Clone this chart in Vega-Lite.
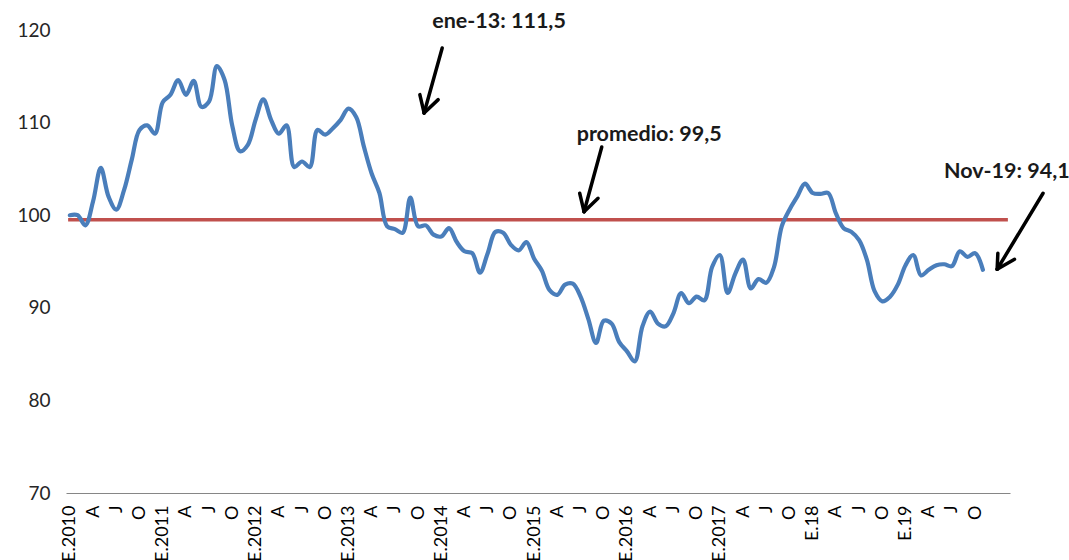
{
  "$schema": "https://vega.github.io/schema/vega-lite/v6.json",
  "width": 944,
  "height": 463,
  "autosize": {"type": "none"},
  "padding": {"left": 66, "top": 30, "right": 59, "bottom": 67},
  "background": "white",
  "config": {"view": {"stroke": null}},
  "datasets": {
    "serie": [
      {"mes":0,"valor":100.0},{"mes":1,"valor":100.0},{"mes":2,"valor":98.9},{"mes":3,"valor":101.5},{"mes":4,"valor":105.1},{"mes":5,"valor":102.0},{"mes":6,"valor":100.6},{"mes":7,"valor":102.7},{"mes":8,"valor":106.0},{"mes":9,"valor":109.2},{"mes":10,"valor":109.7},{"mes":11,"valor":108.8},
      {"mes":12,"valor":112.2},{"mes":13,"valor":113.0},{"mes":14,"valor":114.6},{"mes":15,"valor":113.0},{"mes":16,"valor":114.5},{"mes":17,"valor":111.7},{"mes":18,"valor":112.3},{"mes":19,"valor":116.1},{"mes":20,"valor":114.6},{"mes":21,"valor":109.6},{"mes":22,"valor":106.9},{"mes":23,"valor":107.6},
      {"mes":24,"valor":110.3},{"mes":25,"valor":112.5},{"mes":26,"valor":110.3},{"mes":27,"valor":108.8},{"mes":28,"valor":109.7},{"mes":29,"valor":105.2},{"mes":30,"valor":105.8},{"mes":31,"valor":105.2},{"mes":32,"valor":109.2},{"mes":33,"valor":108.7},{"mes":34,"valor":109.4},{"mes":35,"valor":110.3},
      {"mes":36,"valor":111.5},{"mes":37,"valor":110.6},{"mes":38,"valor":107.4},{"mes":39,"valor":104.5},{"mes":40,"valor":102.4},{"mes":41,"valor":98.8},{"mes":42,"valor":98.5},{"mes":43,"valor":98.1},{"mes":44,"valor":101.9},{"mes":45,"valor":98.8},{"mes":46,"valor":98.9},{"mes":47,"valor":97.9},
      {"mes":48,"valor":97.7},{"mes":49,"valor":98.6},{"mes":50,"valor":97.1},{"mes":51,"valor":96.1},{"mes":52,"valor":95.9},{"mes":53,"valor":93.8},{"mes":54,"valor":95.9},{"mes":55,"valor":98.2},{"mes":56,"valor":98.1},{"mes":57,"valor":96.8},{"mes":58,"valor":96.2},{"mes":59,"valor":97.1},
      {"mes":60,"valor":95.3},{"mes":61,"valor":94.0},{"mes":62,"valor":91.9},{"mes":63,"valor":91.4},{"mes":64,"valor":92.5},{"mes":65,"valor":92.6},{"mes":66,"valor":91.2},{"mes":67,"valor":88.8},{"mes":68,"valor":86.2},{"mes":69,"valor":88.6},{"mes":70,"valor":88.3},{"mes":71,"valor":86.3},
      {"mes":72,"valor":85.3},{"mes":73,"valor":84.2},{"mes":74,"valor":88.0},{"mes":75,"valor":89.6},{"mes":76,"valor":88.3},{"mes":77,"valor":88.0},{"mes":78,"valor":89.4},{"mes":79,"valor":91.6},{"mes":80,"valor":90.5},{"mes":81,"valor":91.2},{"mes":82,"valor":90.8},{"mes":83,"valor":94.4},
      {"mes":84,"valor":95.7},{"mes":85,"valor":91.6},{"mes":86,"valor":93.7},{"mes":87,"valor":95.2},{"mes":88,"valor":92.1},{"mes":89,"valor":93.1},{"mes":90,"valor":92.7},{"mes":91,"valor":94.4},{"mes":92,"valor":98.8},{"mes":93,"valor":100.6},{"mes":94,"valor":102.0},{"mes":95,"valor":103.4},
      {"mes":96,"valor":102.4},{"mes":97,"valor":102.3},{"mes":98,"valor":102.4},{"mes":99,"valor":100.2},{"mes":100,"valor":98.6},{"mes":101,"valor":98.2},{"mes":102,"valor":97.3},{"mes":103,"valor":95.2},{"mes":104,"valor":91.8},{"mes":105,"valor":90.7},{"mes":106,"valor":91.2},{"mes":107,"valor":92.5},
      {"mes":108,"valor":94.6},{"mes":109,"valor":95.7},{"mes":110,"valor":93.5},{"mes":111,"valor":94.1},{"mes":112,"valor":94.6},{"mes":113,"valor":94.7},{"mes":114,"valor":94.5},{"mes":115,"valor":96.1},{"mes":116,"valor":95.5},{"mes":117,"valor":95.9},{"mes":118,"valor":94.1}
    ],
    "promedio": [
      {"mes": 0, "mes2": 121, "valor": 99.5}
    ],
    "flechas": [
      {"mes": 48.12, "valor": 118.06, "mes2": 45.78, "valor2": 111.04},
      {"mes": 45.23, "valor": 113.02, "mes2": 45.78, "valor2": 111.04},
      {"mes": 47.60, "valor": 112.48, "mes2": 45.78, "valor2": 111.04},
      {"mes": 68.74, "valor": 107.37, "mes2": 66.45, "valor2": 100.38},
      {"mes": 65.89, "valor": 102.37, "mes2": 66.45, "valor2": 100.38},
      {"mes": 68.26, "valor": 101.83, "mes2": 66.45, "valor2": 100.38},
      {"mes": 125.77, "valor": 102.37, "mes2": 119.84, "valor2": 94.16},
      {"mes": 119.93, "valor": 95.89, "mes2": 119.84, "valor2": 94.16},
      {"mes": 122.09, "valor": 95.24, "mes2": 119.84, "valor2": 94.16}
    ],
    "notas": [
      {"mes": 46.82, "valor": 120.86, "texto": "ene-13: 111,5"},
      {"mes": 65.5, "valor": 108.66, "texto": "promedio: 99,5"},
      {"mes": 112.97, "valor": 104.67, "texto": "Nov-19: 94,1"}
    ]
  },
  "encoding": {
    "x": {
      "field": "mes", "type": "quantitative",
      "scale": {"domain": [-0.5, 121.5], "nice": false, "zero": false},
      "axis": {
        "title": null,
        "values": [0,3,6,9,12,15,18,21,24,27,30,33,36,39,42,45,48,51,54,57,60,63,66,69,72,75,78,81,84,87,90,93,96,99,102,105,108,111,114,117],
        "labelExpr": "datum.value % 12 == 0 ? (datum.value >= 96 ? 'E.' + (18 + (datum.value - 96) / 12) : 'E.' + (2010 + datum.value / 12)) : (datum.value % 12 == 3 ? 'A' : (datum.value % 12 == 6 ? 'J' : 'O'))",
        "labelAngle": -90,
        "labelAlign": "right",
        "labelBaseline": "middle",
        "labelPadding": 12,
        "labelFontSize": 18,
        "labelFont": "Lato",
        "labelColor": "#000000",
        "labelOverlap": false,
        "labelBound": false,
        "labelFlush": false,
        "ticks": false,
        "grid": false,
        "domain": true,
        "domainColor": "#868686",
        "domainWidth": 1
      }
    },
    "y": {
      "field": "valor", "type": "quantitative",
      "scale": {"domain": [70, 120], "nice": false, "zero": false},
      "axis": {
        "title": null,
        "values": [70, 80, 90, 100, 110, 120],
        "labelFontSize": 19,
        "labelFont": "Lato",
        "labelColor": "#262626",
        "labelPadding": 16,
        "ticks": false,
        "grid": false,
        "domain": false
      }
    }
  },
  "layer": [
    {
      "data": {"name": "promedio"},
      "mark": {"type": "rule", "color": "#C0504D", "strokeWidth": 3.5, "strokeCap": "square"},
      "encoding": {"x2": {"field": "mes2"}}
    },
    {
      "data": {"name": "serie"},
      "mark": {"type": "line", "color": "#4A7EBB", "strokeWidth": 4.2, "interpolate": "catmull-rom", "strokeCap": "round", "strokeJoin": "round"},
      "encoding": {}
    },
    {
      "data": {"name": "flechas"},
      "mark": {"type": "rule", "color": "#000000", "strokeWidth": 3.5, "strokeCap": "round"},
      "encoding": {"x2": {"field": "mes2"}, "y2": {"field": "valor2"}}
    },
    {
      "data": {"name": "notas"},
      "mark": {"type": "text", "align": "left", "baseline": "middle", "font": "Lato", "fontWeight": "bold", "fontSize": 21.5, "color": "#1a1a1a"},
      "encoding": {"text": {"field": "texto"}}
    }
  ]
}
